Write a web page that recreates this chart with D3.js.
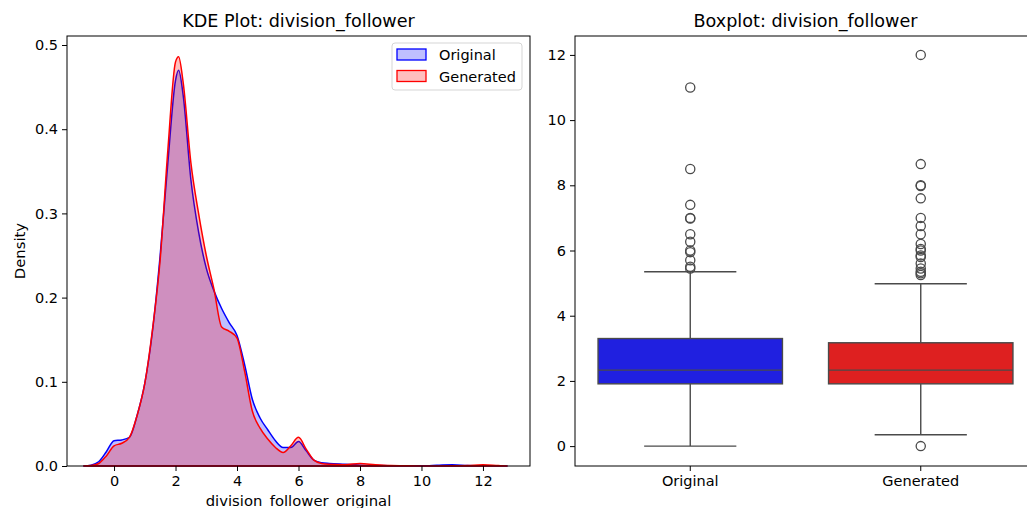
<!DOCTYPE html>
<html>
<head>
<meta charset="utf-8">
<script src="https://cdn.jsdelivr.net/npm/d3@7"></script>
<style>
  body { margin: 0; background: #fff; }
  svg { font-family: "DejaVu Sans", sans-serif; }
</style>
</head>
<body>
<div id="viz"></div>
<script>
// kde grid
let kdeX = [-1.0, -0.75, -0.5, -0.25, 0, 0.25, 0.5, 0.75, 1.0, 1.25, 1.5, 1.75, 2.0, 2.1, 2.25, 2.5, 2.75,
  3.0, 3.25, 3.5, 3.75, 4.0, 4.25, 4.5, 4.75, 5.0, 5.25, 5.5, 5.75, 6.0, 6.25, 6.5, 6.75, 7.0, 7.5,
  8.0, 8.5, 9.0, 9.5, 10.0, 10.5, 11.0, 11.5, 12.0, 12.5, 12.8];
let kdeOriginal = [0, 0.001, 0.005, 0.017, 0.030, 0.031, 0.034, 0.060, 0.098, 0.160, 0.250, 0.360, 0.458, 0.470, 0.440, 0.340, 0.278,
  0.235, 0.208, 0.187, 0.170, 0.155, 0.120, 0.079, 0.057, 0.043, 0.030, 0.022, 0.022, 0.029, 0.018, 0.007, 0.004, 0.003, 0.002,
  0.001, 0.0005, 0.0002, 0.0001, 0.0002, 0.0008, 0.0015, 0.0005, 0.0001, 0, 0];
let kdeGenerated = [0, 0.0005, 0.003, 0.012, 0.024, 0.027, 0.034, 0.060, 0.098, 0.162, 0.245, 0.375, 0.480, 0.486, 0.455, 0.360, 0.300,
  0.250, 0.210, 0.165, 0.160, 0.152, 0.112, 0.065, 0.045, 0.032, 0.022, 0.016, 0.024, 0.034, 0.020, 0.007, 0.003, 0.002, 0.0015,
  0.003, 0.0015, 0.0005, 0.0002, 0.0001, 0.0001, 0.0002, 0.0006, 0.0015, 0.0005, 0];

let kdeXTicks = [0, 2, 4, 6, 8, 10, 12];
let kdeYTicks = [0, 0.1, 0.2, 0.3, 0.4, 0.5];

// boxplot stats
let groups = ["Original", "Generated"];
let q1 = [1.91, 1.91];
let median = [2.33, 2.33];
let q3 = [3.30, 3.17];
let whiskLow = [0, 0.35];
let whiskHigh = [5.35, 4.98];
let outliersOriginal = [11, 8.5, 7.4, 7.0, 6.98, 6.5, 6.27, 6.0, 5.95, 5.7, 5.5, 5.45];
let outliersGenerated = [12, 8.65, 8.0, 7.98, 7.6, 7.0, 6.75, 6.5, 6.2, 6.05, 6.0, 5.85, 5.8, 5.6, 5.45, 5.35, 5.3, 5.25, 0];
let boxYTicks = [0, 2, 4, 6, 8, 10, 12];

let width = 1027, height = 508;
let svg = d3.select("#viz").append("svg")
  .attr("width", width).attr("height", height);
svg.append("rect").attr("width", width).attr("height", height).attr("fill", "#fff");

// ---------- KDE panel ----------
let left = { x0: 67, x1: 530, y0: 36, y1: 466 };

let x = d3.scaleLinear().domain([-1.53, 13.53]).range([left.x0, left.x1]);
let y = d3.scaleLinear().domain([0, 0.5107]).range([left.y1, left.y0]);

let area = d3.area()
  .curve(d3.curveMonotoneX)
  .x((d) => x(d[0]))
  .y0(y(0))
  .y1((d) => y(d[1]));

let kdeG = svg.append("g");
kdeG.append("path")
  .attr("d", area(kdeX.map((v, i) => [v, kdeOriginal[i]])))
  .attr("fill", "rgba(0,0,255,0.25)")
  .attr("stroke", "#0000ff")
  .attr("stroke-width", 1.5);
kdeG.append("path")
  .attr("d", area(kdeX.map((v, i) => [v, kdeGenerated[i]])))
  .attr("fill", "rgba(255,0,0,0.25)")
  .attr("stroke", "#ff0000")
  .attr("stroke-width", 1.5);

svg.append("g")
  .attr("transform", `translate(0,${left.y1})`)
  .call(d3.axisBottom(x).tickValues(kdeXTicks).tickSize(5).tickPadding(5).tickFormat(d3.format("d")))
  .call((g) => g.select(".domain").remove());
svg.append("g")
  .attr("transform", `translate(${left.x0},0)`)
  .call(d3.axisLeft(y).tickValues(kdeYTicks).tickSize(5).tickPadding(4).tickFormat(d3.format(".1f")))
  .call((g) => g.select(".domain").remove());

svg.append("rect")
  .attr("x", left.x0).attr("y", left.y0)
  .attr("width", left.x1 - left.x0).attr("height", left.y1 - left.y0)
  .attr("fill", "none").attr("stroke", "#000").attr("stroke-width", 1);

svg.append("text")
  .attr("x", (left.x0 + left.x1) / 2).attr("y", 27)
  .attr("text-anchor", "middle").attr("font-size", 17.6)
  .text("KDE Plot: division_follower");
svg.append("text")
  .attr("x", (left.x0 + left.x1) / 2).attr("y", 506)
  .attr("text-anchor", "middle").attr("font-size", 14.8)
  .text("division_follower_original");
svg.append("text")
  .attr("transform", `translate(25,${(left.y0 + left.y1) / 2}) rotate(-90)`)
  .attr("text-anchor", "middle").attr("font-size", 14.8)
  .text("Density");

// legend
let legend = svg.append("g").attr("transform", "translate(392,43)");
legend.append("rect")
  .attr("width", 130).attr("height", 47).attr("rx", 3)
  .attr("fill", "rgba(255,255,255,0.8)").attr("stroke", "#d5d5d5");
let legendItems = [["Original", "rgba(0,0,255,0.25)", "#0000ff"], ["Generated", "rgba(255,0,0,0.25)", "#ff0000"]];
legendItems.forEach((d, i) => {
  legend.append("rect")
    .attr("x", 5).attr("y", 6 + i * 21.5).attr("width", 29).attr("height", 11)
    .attr("fill", d[1]).attr("stroke", d[2]).attr("stroke-width", 1.3);
  legend.append("text")
    .attr("x", 47).attr("y", 17 + i * 21.5)
    .attr("font-size", 14.5).text(d[0]);
});

// ---------- Box panel ----------
let right = { x0: 575, x1: 1036, y0: 36, y1: 466 };
let bx = d3.scaleBand().domain(groups).range([right.x0, right.x1]);
let by = d3.scaleLinear().domain([-0.61, 12.58]).range([right.y1, right.y0]);
let boxColors = ["#2020e0", "#de2020"];
let lineCol = "#4a4a4a";
let outliers = [outliersOriginal, outliersGenerated];

let boxG = svg.append("g");
groups.forEach((g, i) => {
  let cx = bx(g) + bx.bandwidth() / 2;
  let bw = bx.bandwidth() * 0.8;
  let cap = bw / 2;
  // whiskers
  boxG.append("line").attr("x1", cx).attr("x2", cx)
    .attr("y1", by(q3[i])).attr("y2", by(whiskHigh[i]))
    .attr("stroke", lineCol).attr("stroke-width", 1.4);
  boxG.append("line").attr("x1", cx).attr("x2", cx)
    .attr("y1", by(q1[i])).attr("y2", by(whiskLow[i]))
    .attr("stroke", lineCol).attr("stroke-width", 1.4);
  [whiskHigh[i], whiskLow[i]].forEach((v) => {
    boxG.append("line").attr("x1", cx - cap / 2).attr("x2", cx + cap / 2)
      .attr("y1", by(v)).attr("y2", by(v))
      .attr("stroke", lineCol).attr("stroke-width", 1.4);
  });
  boxG.append("rect")
    .attr("x", cx - bw / 2).attr("y", by(q3[i]))
    .attr("width", bw).attr("height", by(q1[i]) - by(q3[i]))
    .attr("fill", boxColors[i]).attr("stroke", lineCol).attr("stroke-width", 1.4);
  boxG.append("line").attr("x1", cx - bw / 2).attr("x2", cx + bw / 2)
    .attr("y1", by(median[i])).attr("y2", by(median[i]))
    .attr("stroke", lineCol).attr("stroke-width", 1.4);
  boxG.selectAll(null).data(outliers[i]).enter().append("circle")
    .attr("cx", cx).attr("cy", (d) => by(d)).attr("r", 4.6)
    .attr("fill", "none").attr("stroke", lineCol).attr("stroke-width", 1.3);
});

svg.append("g")
  .attr("transform", `translate(0,${right.y1})`)
  .call(d3.axisBottom(bx).tickSize(5).tickPadding(5))
  .call((g) => g.select(".domain").remove());
svg.append("g")
  .attr("transform", `translate(${right.x0},0)`)
  .call(d3.axisLeft(by).tickValues(boxYTicks).tickSize(5).tickPadding(4))
  .call((g) => g.select(".domain").remove());

svg.append("rect")
  .attr("x", right.x0).attr("y", right.y0)
  .attr("width", right.x1 - right.x0).attr("height", right.y1 - right.y0)
  .attr("fill", "none").attr("stroke", "#000").attr("stroke-width", 1);

svg.append("text")
  .attr("x", (right.x0 + right.x1) / 2).attr("y", 27)
  .attr("text-anchor", "middle").attr("font-size", 17.6)
  .text("Boxplot: division_follower");

svg.selectAll(".tick text").attr("font-size", 14.5).attr("fill", "#000").attr("font-family", "DejaVu Sans, sans-serif");
svg.selectAll(".tick line").attr("stroke", "#000");
</script>
</body>
</html>
